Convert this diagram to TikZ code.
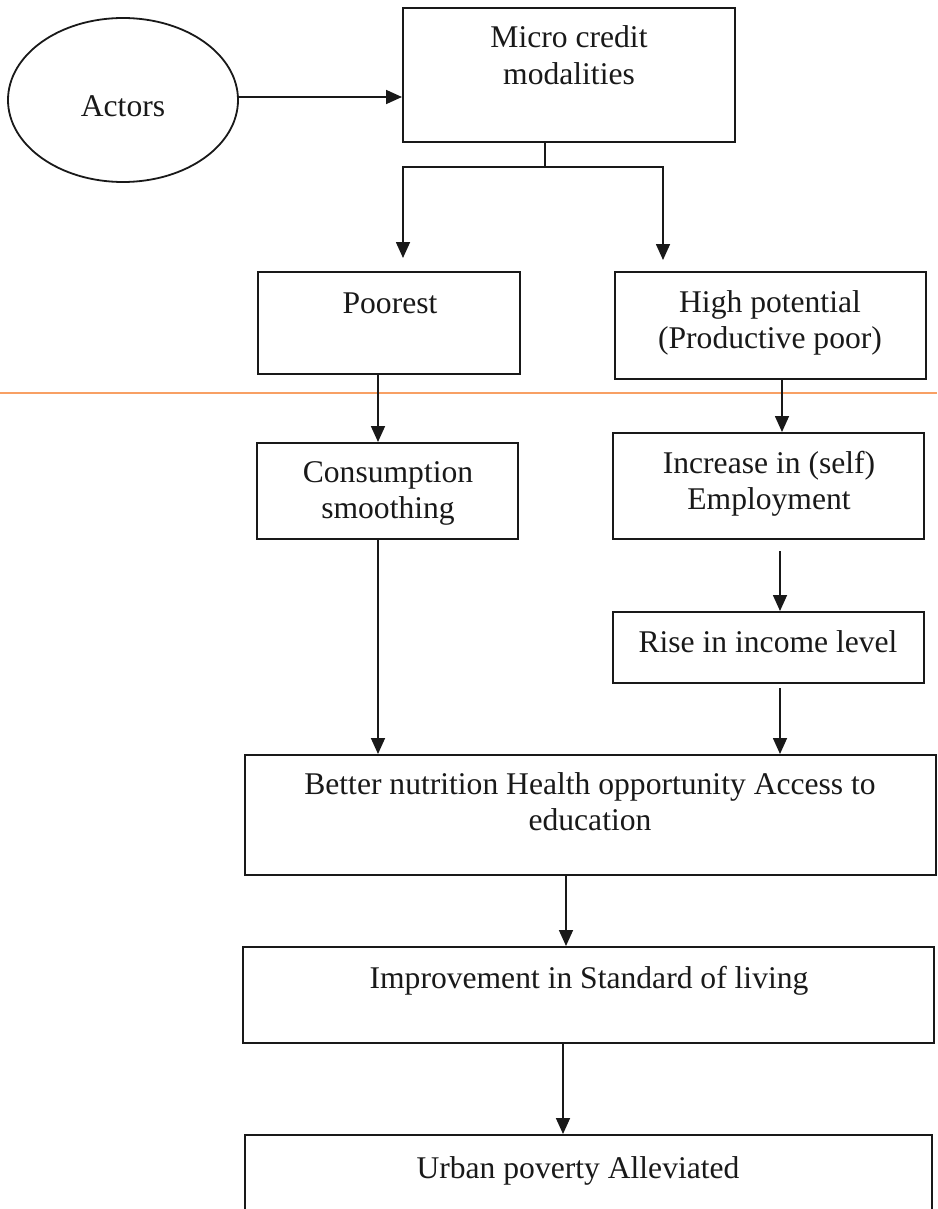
\documentclass[tikz,border=0pt]{standalone}
\usepackage{fontspec}
\setmainfont{Liberation Serif}
\usetikzlibrary{arrows.meta,shapes.geometric}
\newcommand{\bigfont}{\fontsize{31.6}{36.5}\selectfont}
\newcommand{\mylines}[1]{\begin{tabular}[t]{@{}c@{}}#1\end{tabular}}
\definecolor{inkc}{RGB}{25,25,25}
\definecolor{orangeline}{RGB}{248,160,100}
\tikzset{
  box/.style={draw=inkc, line width=2pt, rectangle, inner sep=0pt},
  oval/.style={draw=inkc, line width=1.8pt, ellipse, inner sep=0pt},
  txt/.style={anchor=base, inner sep=0pt, font=\bigfont, text=inkc},
  arr/.style={draw=inkc, line width=1.7pt, -{Triangle[length=16pt,width=14pt]}},
  plain/.style={draw=inkc, line width=1.7pt}
}
\begin{document}
\begin{tikzpicture}[x=1pt,y=-1pt]
\useasboundingbox (0,0) rectangle (937,1209);
\clip (0,0) rectangle (937,1209);
\fill[white] (0,0) rectangle (937,1209);

% boxes
\node[oval, minimum width=230pt, minimum height=164pt] (actors) at (123,100) {};
\node[box, minimum width=332pt, minimum height=134pt] (micro) at (569,75) {};
\node[box, minimum width=262pt, minimum height=102pt] (poor) at (389,323) {};
\node[box, minimum width=311pt, minimum height=107pt] (high) at (770.5,325.5) {};
\node[box, minimum width=261pt, minimum height=96pt] (cons) at (387.5,491) {};
\node[box, minimum width=311pt, minimum height=106pt] (incr) at (768.5,486) {};
\node[box, minimum width=311pt, minimum height=71pt] (rise) at (768.5,647.5) {};
\node[box, minimum width=691pt, minimum height=120pt] (better) at (590.5,815) {};
\node[box, minimum width=691pt, minimum height=96pt] (impr) at (588.5,995) {};
\node[box, minimum width=687pt, minimum height=105pt] (urban) at (588.5,1187.5) {};

% texts
\node[txt] (actorsT) at (123,117) {Actors};
\node[txt] (microT) at (569,48) {\mylines{Micro credit\\modalities}};
\node[txt] (poorT) at (390,313) {Poorest};
\node[txt] (highT) at (770,312) {\mylines{High potential\\(Productive poor)}};
\node[txt] (consT) at (388,482) {\mylines{Consumption\\smoothing}};
\node[txt] (incrT) at (769,473) {\mylines{Increase in (self)\\Employment}};
\node[txt] (riseT) at (768,652) {Rise in income level};
\node[txt] (betterT) at (590,794) {\mylines{Better nutrition Health opportunity Access to\\education}};
\node[txt] (imprT) at (589,988) {Improvement in Standard of living};
\node[txt] (urbanT) at (578,1178) {Urban poverty Alleviated};

% thin orange rule across the page
\coordinate (oL) at (0,393);
\coordinate (oR) at (937,393);
\draw[orangeline, line width=1.2pt] (oL) -- (oR);

% Actors -> Micro credit
\coordinate (aE) at ([yshift=3pt]actors.east);
\draw[arr] (aE) -- (micro.west |- aE);

% branching
\coordinate (stem) at (545,167);
\coordinate (tl) at (403,258);
\coordinate (tr) at (663,260);
\draw[plain] (micro.south -| stem) -- (stem);
\draw[arr] (stem) -| (tl);
\draw[arr] (stem) -| (tr);

% vertical connectors
\coordinate (xl) at (378,0);
\coordinate (xr) at (782,0);
\coordinate (xm) at (780,0);
\coordinate (xb) at (566,0);
\coordinate (xu) at (563,0);
\draw[arr] (poor.south -| xl) -- (cons.north -| xl);
\draw[arr] (high.south -| xr) -- (incr.north -| xr);
\draw[arr, shorten <=11pt] (incr.south -| xm) -- (rise.north -| xm);
\draw[arr, shorten <=4pt] (rise.south -| xm) -- (better.north -| xm);
\draw[arr] (cons.south -| xl) -- (better.north -| xl);
\draw[arr] (better.south -| xb) -- (impr.north -| xb);
\draw[arr] (impr.south -| xu) -- (urban.north -| xu);
\end{tikzpicture}
\end{document}
